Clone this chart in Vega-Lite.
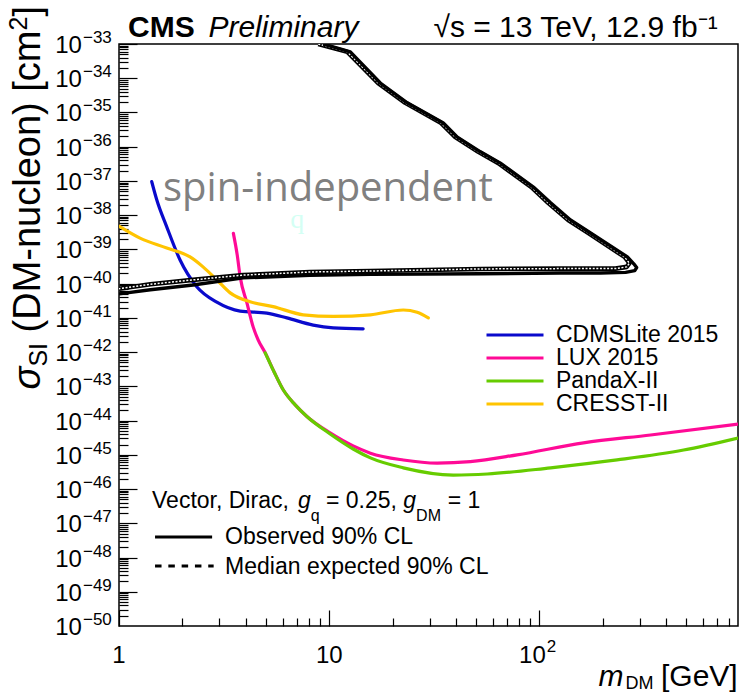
{
  "$schema": "https://vega.github.io/schema/vega-lite/v6.json",
  "width": 619,
  "height": 582,
  "autosize": {"type": "none"},
  "padding": {"left": 119, "top": 44, "right": 6, "bottom": 67},
  "background": "white",
  "config": {
    "view": {"stroke": "black", "strokeWidth": 1.5},
    "axis": {"grid": false, "domain": false, "labels": false, "tickColor": "black", "tickWidth": 1.2, "title": null}
  },
  "datasets": {
    "ylab": [
      {"m": 0.6665, "me": 0.674, "s": 1e-33, "e": "−33"}, {"m": 0.6665, "me": 0.674, "s": 1e-34, "e": "−34"},
      {"m": 0.6665, "me": 0.674, "s": 1e-35, "e": "−35"}, {"m": 0.6665, "me": 0.674, "s": 1e-36, "e": "−36"},
      {"m": 0.6665, "me": 0.674, "s": 1e-37, "e": "−37"}, {"m": 0.6665, "me": 0.674, "s": 1e-38, "e": "−38"},
      {"m": 0.6665, "me": 0.674, "s": 1e-39, "e": "−39"}, {"m": 0.6665, "me": 0.674, "s": 1e-40, "e": "−40"},
      {"m": 0.6665, "me": 0.674, "s": 1e-41, "e": "−41"}, {"m": 0.6665, "me": 0.674, "s": 1e-42, "e": "−42"},
      {"m": 0.6665, "me": 0.674, "s": 1e-43, "e": "−43"}, {"m": 0.6665, "me": 0.674, "s": 1e-44, "e": "−44"},
      {"m": 0.6665, "me": 0.674, "s": 1e-45, "e": "−45"}, {"m": 0.6665, "me": 0.674, "s": 1e-46, "e": "−46"},
      {"m": 0.6665, "me": 0.674, "s": 1e-47, "e": "−47"}, {"m": 0.6665, "me": 0.674, "s": 1e-48, "e": "−48"},
      {"m": 0.6665, "me": 0.674, "s": 1e-49, "e": "−49"}, {"m": 0.6665, "me": 0.674, "s": 1e-50, "e": "−50"}
    ]
  },
  "encoding": {
    "x": {"field": "m", "type": "quantitative",
      "scale": {"type": "log", "domain": [1, 880], "nice": false},
      "axis": {"orient": "bottom", "tickCount": 20,
        "tickSize": {"condition": {"test": "abs(log(datum.value)/LN10 - round(log(datum.value)/LN10)) < 0.01", "value": -16}, "value": -8}}},
    "y": {"field": "s", "type": "quantitative",
      "scale": {"type": "log", "domain": [1e-50, 1e-33], "nice": false},
      "axis": {"orient": "left", "tickCount": 20,
        "tickSize": {"condition": {"test": "abs(log(datum.value)/LN10 - round(log(datum.value)/LN10)) < 0.01", "value": -18}, "value": -9}}}
  },
  "layer": [
    {
      "data": {"values": [
        {"exp": "CDMSLite 2015", "m": 1.431, "s": 9.55e-38},
        {"exp": "CDMSLite 2015", "m": 1.512, "s": 2.82e-38},
        {"exp": "CDMSLite 2015", "m": 1.687, "s": 4.57e-39},
        {"exp": "CDMSLite 2015", "m": 1.952, "s": 4.90e-40},
        {"exp": "CDMSLite 2015", "m": 2.344, "s": 8.13e-41},
        {"exp": "CDMSLite 2015", "m": 2.919, "s": 2.88e-41},
        {"exp": "CDMSLite 2015", "m": 3.77, "s": 1.58e-41},
        {"exp": "CDMSLite 2015", "m": 5.05, "s": 1.38e-41},
        {"exp": "CDMSLite 2015", "m": 6.29, "s": 1.0e-41},
        {"exp": "CDMSLite 2015", "m": 8.39, "s": 6.17e-42},
        {"exp": "CDMSLite 2015", "m": 10.45, "s": 5.13e-42},
        {"exp": "CDMSLite 2015", "m": 14.5, "s": 4.79e-42},
        {"exp": "LUX 2015", "m": 3.5, "s": 2.95e-39},
        {"exp": "LUX 2015", "m": 3.65, "s": 6.92e-40},
        {"exp": "LUX 2015", "m": 3.77, "s": 1.58e-40},
        {"exp": "LUX 2015", "m": 4.06, "s": 2.75e-41},
        {"exp": "LUX 2015", "m": 4.35, "s": 5.37e-42},
        {"exp": "LUX 2015", "m": 4.59, "s": 2.29e-42},
        {"exp": "LUX 2015", "m": 4.96, "s": 9.55e-43},
        {"exp": "LUX 2015", "m": 5.47, "s": 2.63e-43},
        {"exp": "LUX 2015", "m": 6.04, "s": 7.94e-44},
        {"exp": "LUX 2015", "m": 6.89, "s": 2.88e-44},
        {"exp": "LUX 2015", "m": 7.83, "s": 1.32e-44},
        {"exp": "LUX 2015", "m": 10.1, "s": 4.37e-45},
        {"exp": "LUX 2015", "m": 13.0, "s": 1.82e-45},
        {"exp": "LUX 2015", "m": 15.7, "s": 1.12e-45},
        {"exp": "LUX 2015", "m": 22.5, "s": 7.08e-46},
        {"exp": "LUX 2015", "m": 32.6, "s": 5.75e-46},
        {"exp": "LUX 2015", "m": 46.9, "s": 6.31e-46},
        {"exp": "LUX 2015", "m": 78.3, "s": 1.0e-45},
        {"exp": "LUX 2015", "m": 162, "s": 2.24e-45},
        {"exp": "LUX 2015", "m": 338, "s": 3.80e-45},
        {"exp": "LUX 2015", "m": 880, "s": 7.94e-45},
        {"exp": "PandaX-II", "m": 4.96, "s": 9.55e-43},
        {"exp": "PandaX-II", "m": 5.47, "s": 2.63e-43},
        {"exp": "PandaX-II", "m": 6.04, "s": 7.94e-44},
        {"exp": "PandaX-II", "m": 6.89, "s": 2.88e-44},
        {"exp": "PandaX-II", "m": 7.83, "s": 1.32e-44},
        {"exp": "PandaX-II", "m": 10.1, "s": 4.07e-45},
        {"exp": "PandaX-II", "m": 13.0, "s": 1.48e-45},
        {"exp": "PandaX-II", "m": 15.7, "s": 8.13e-46},
        {"exp": "PandaX-II", "m": 22.5, "s": 4.17e-46},
        {"exp": "PandaX-II", "m": 38.9, "s": 2.57e-46},
        {"exp": "PandaX-II", "m": 56.5, "s": 2.75e-46},
        {"exp": "PandaX-II", "m": 113, "s": 4.17e-46},
        {"exp": "PandaX-II", "m": 234, "s": 7.08e-46},
        {"exp": "PandaX-II", "m": 485, "s": 1.38e-45},
        {"exp": "PandaX-II", "m": 880, "s": 3.09e-45},
        {"exp": "CRESST-II", "m": 1.0, "s": 4.79e-39},
        {"exp": "CRESST-II", "m": 1.259, "s": 2.14e-39},
        {"exp": "CRESST-II", "m": 1.687, "s": 1.10e-39},
        {"exp": "CRESST-II", "m": 2.178, "s": 6.03e-40},
        {"exp": "CRESST-II", "m": 2.51, "s": 3.09e-40},
        {"exp": "CRESST-II", "m": 2.919, "s": 1.29e-40},
        {"exp": "CRESST-II", "m": 3.38, "s": 5.37e-41},
        {"exp": "CRESST-II", "m": 4.2, "s": 2.95e-41},
        {"exp": "CRESST-II", "m": 5.41, "s": 2.14e-41},
        {"exp": "CRESST-II", "m": 7.52, "s": 1.23e-41},
        {"exp": "CRESST-II", "m": 10.45, "s": 1.10e-41},
        {"exp": "CRESST-II", "m": 15.7, "s": 1.23e-41},
        {"exp": "CRESST-II", "m": 22.5, "s": 1.70e-41},
        {"exp": "CRESST-II", "m": 26.2, "s": 1.45e-41},
        {"exp": "CRESST-II", "m": 29.6, "s": 1.0e-41}
      ]},
      "mark": {"type": "line", "strokeWidth": 3.2, "clip": true, "strokeCap": "round", "strokeJoin": "round", "interpolate": "monotone"},
      "encoding": {
        "color": {"field": "exp", "type": "nominal",
          "scale": {"domain": ["CDMSLite 2015", "LUX 2015", "PandaX-II", "CRESST-II"], "range": ["#0a0acc", "#ff0a96", "#66cc00", "#ffc400"]},
          "legend": {"orient": "none", "legendX": 366, "legendY": 280, "title": null, "symbolType": "stroke", "symbolSize": 3249, "symbolStrokeWidth": 3, "clipHeight": 22, "rowPadding": 0, "labelFont": "Liberation Sans", "labelFontSize": 23, "labelColor": "black", "labelOffset": 11, "labelLimit": 400, "padding": 0}}
      }
    },
    {
      "data": {"values": [
        {"o": 1, "m": 8.87, "s": 1.0e-33}, {"o": 2, "m": 12.2, "s": 5.89e-34}, {"o": 3, "m": 17.1, "s": 7.24e-35},
        {"o": 4, "m": 23.0, "s": 1.91e-35}, {"o": 5, "m": 34.1, "s": 4.90e-36}, {"o": 6, "m": 39.8, "s": 1.91e-36},
        {"o": 7, "m": 51.2, "s": 7.08e-37}, {"o": 8, "m": 63.8, "s": 3.31e-37}, {"o": 9, "m": 91.6, "s": 6.61e-38},
        {"o": 10, "m": 110, "s": 2.29e-38}, {"o": 11, "m": 137, "s": 7.24e-39}, {"o": 12, "m": 171, "s": 3.02e-39},
        {"o": 13, "m": 254, "s": 6.03e-40}, {"o": 14, "m": 268, "s": 3.98e-40}, {"o": 15, "m": 260, "s": 3.09e-40},
        {"o": 16, "m": 230, "s": 2.75e-40}, {"o": 17, "m": 126, "s": 2.75e-40}, {"o": 18, "m": 52.4, "s": 2.69e-40},
        {"o": 19, "m": 15.7, "s": 2.34e-40}, {"o": 20, "m": 8.1, "s": 2.19e-40}, {"o": 21, "m": 3.9, "s": 1.78e-40},
        {"o": 22, "m": 2.25, "s": 1.29e-40}, {"o": 23, "m": 1.41, "s": 9.55e-41}, {"o": 24, "m": 1.0, "s": 7.08e-41}
      ]},
      "layer": [
        {"mark": {"type": "line", "color": "black", "strokeWidth": 4.6, "clip": true, "strokeJoin": "round"}, "encoding": {"order": {"field": "o", "type": "quantitative"}}},
        {"mark": {"type": "line", "color": "white", "strokeWidth": 1.5, "strokeDash": [2, 1.6], "clip": true}, "encoding": {"order": {"field": "o", "type": "quantitative"}}}
      ]
    },
    {
      "data": {"values": [
        {"o": 1, "m": 9.36, "s": 1.0e-33}, {"o": 2, "m": 12.6, "s": 5.89e-34}, {"o": 3, "m": 17.5, "s": 7.24e-35},
        {"o": 4, "m": 23.5, "s": 1.91e-35}, {"o": 5, "m": 34.9, "s": 4.90e-36}, {"o": 6, "m": 40.7, "s": 1.91e-36},
        {"o": 7, "m": 52.4, "s": 7.08e-37}, {"o": 8, "m": 65.2, "s": 3.31e-37}, {"o": 9, "m": 93.6, "s": 6.61e-38},
        {"o": 10, "m": 113, "s": 2.29e-38}, {"o": 11, "m": 140.5, "s": 7.24e-39}, {"o": 12, "m": 175, "s": 3.02e-39},
        {"o": 13, "m": 262, "s": 6.03e-40}, {"o": 14, "m": 281, "s": 3.80e-40}, {"o": 15, "m": 290, "s": 2.95e-40},
        {"o": 16, "m": 284, "s": 2.40e-40}, {"o": 17, "m": 257, "s": 2.14e-40}, {"o": 18, "m": 195, "s": 2.04e-40},
        {"o": 19, "m": 126, "s": 2.04e-40}, {"o": 20, "m": 52.4, "s": 1.95e-40}, {"o": 21, "m": 15.7, "s": 1.86e-40},
        {"o": 22, "m": 8.1, "s": 1.74e-40}, {"o": 23, "m": 3.9, "s": 1.48e-40}, {"o": 24, "m": 2.25, "s": 9.12e-41},
        {"o": 25, "m": 1.41, "s": 6.61e-41}, {"o": 26, "m": 1.0, "s": 5.01e-41}
      ]},
      "mark": {"type": "line", "color": "black", "strokeWidth": 3.4, "clip": true, "strokeJoin": "round"},
      "encoding": {"order": {"field": "o", "type": "quantitative"}}
    },
    {
      "data": {"values": [{"m": 1.484, "m2": 2.773, "s": 4.0e-48}]},
      "mark": {"type": "rule", "color": "black", "strokeWidth": 3},
      "encoding": {"x2": {"field": "m2"}}
    },
    {
      "data": {"values": [{"m": 1.484, "m2": 2.82, "s": 5.69e-49}]},
      "mark": {"type": "rule", "color": "black", "strokeWidth": 3, "strokeDash": [6.5, 6.8]},
      "encoding": {"x2": {"field": "m2"}}
    },
    {
      "data": {"name": "ylab"},
      "mark": {"type": "text", "align": "right", "baseline": "alphabetic", "font": "Liberation Sans", "fontSize": 24, "color": "black", "dy": 9},
      "encoding": {"text": {"value": "10"}}
    },
    {
      "data": {"name": "ylab"},
      "mark": {"type": "text", "align": "left", "baseline": "alphabetic", "font": "Liberation Sans", "fontSize": 17, "color": "black", "dy": -1},
      "encoding": {"x": {"field": "me", "type": "quantitative"}, "text": {"field": "e"}}
    },
    {
      "data": {"values": [{"m": 1, "s": 1e-50, "t": "1"}, {"m": 10, "s": 1e-50, "t": "10"}, {"m": 92.6, "s": 1e-50, "t": "10"}]},
      "mark": {"type": "text", "align": "center", "baseline": "alphabetic", "font": "Liberation Sans", "fontSize": 24, "color": "black", "dy": 37},
      "encoding": {"text": {"field": "t"}}
    },
    {
      "data": {"values": [{"m": 114, "s": 1e-50, "t": "2"}]},
      "mark": {"type": "text", "align": "center", "baseline": "alphabetic", "font": "Liberation Sans", "fontSize": 17, "color": "black", "dy": 26},
      "encoding": {"text": {"field": "t"}}
    },
    {
      "data": {"values": [
        {"t": "Vector, Dirac,", "m": 1.436, "s": 2.81e-47},
        {"t": "= 0.25,", "m": 9.65, "s": 2.81e-47},
        {"t": "= 1", "m": 36.6, "s": 2.81e-47},
        {"t": "Observed 90% CL", "m": 3.197, "s": 2.49e-48},
        {"t": "Median expected 90% CL", "m": 3.197, "s": 3.32e-49}
      ]},
      "mark": {"type": "text", "align": "left", "baseline": "alphabetic", "font": "Liberation Sans", "fontSize": 23, "color": "black"},
      "encoding": {"text": {"field": "t"}}
    },
    {
      "data": {"values": [
        {"t": "g", "m": 7.10, "s": 2.81e-47},
        {"t": "g", "m": 22.5, "s": 2.81e-47}
      ]},
      "mark": {"type": "text", "align": "left", "baseline": "alphabetic", "font": "Liberation Sans", "fontStyle": "italic", "fontSize": 23, "color": "black"},
      "encoding": {"text": {"field": "t"}}
    },
    {
      "data": {"values": [
        {"t": "q", "m": 8.16, "s": 1.17e-47},
        {"t": "DM", "m": 25.9, "s": 1.17e-47}
      ]},
      "mark": {"type": "text", "align": "left", "baseline": "alphabetic", "font": "Liberation Sans", "fontSize": 16, "color": "black"},
      "encoding": {"text": {"field": "t"}}
    },
    {
      "data": {"values": [{"t": "CMS", "m": 1.104, "s": 1.60e-33}]},
      "mark": {"type": "text", "align": "left", "baseline": "alphabetic", "font": "Liberation Sans", "fontWeight": "bold", "fontSize": 30, "color": "black"},
      "encoding": {"text": {"field": "t"}}
    },
    {
      "data": {"values": [
        {"t": "Preliminary", "m": 2.662, "s": 1.60e-33},
        {"t": "m", "m": 191, "s": 1.78e-52}
      ]},
      "mark": {"type": "text", "align": "left", "baseline": "alphabetic", "font": "Liberation Sans", "fontStyle": "italic", "fontSize": 30, "color": "black"},
      "encoding": {"text": {"field": "t"}}
    },
    {
      "data": {"values": [
        {"t": "√s = 13 TeV, 12.9 fb⁻¹", "m": 704, "s": 1.60e-33},
        {"t": "[GeV]", "m": 877, "s": 1.78e-52}
      ]},
      "mark": {"type": "text", "align": "right", "baseline": "alphabetic", "font": "Liberation Sans", "fontSize": 30, "color": "black"},
      "encoding": {"text": {"field": "t"}}
    },
    {
      "data": {"values": [{"t": "DM", "m": 256.8, "s": 1.45e-52}]},
      "mark": {"type": "text", "align": "left", "baseline": "alphabetic", "font": "Liberation Sans", "fontSize": 18, "color": "black"},
      "encoding": {"text": {"field": "t"}}
    },
    {
      "data": {"values": [{"t": "spin-independent", "m": 1.62, "s": 2.60e-38}]},
      "mark": {"type": "text", "align": "left", "baseline": "alphabetic", "font": "Open Sans", "fontSize": 40, "color": "#808080"},
      "encoding": {"text": {"field": "t"}}
    },
    {
      "data": {"values": [{"t": "q", "m": 6.52, "s": 4.23e-39}]},
      "mark": {"type": "text", "align": "left", "baseline": "alphabetic", "font": "Liberation Serif", "fontSize": 28, "color": "#d4fff4"},
      "encoding": {"text": {"field": "t"}}
    },
    {
      "data": {"values": [
        {"t": "]", "m": 0.4206, "s": 1.288e-32},
        {"t": "(DM-nucleon) [cm", "m": 0.4206, "s": 2.48e-33}
      ]},
      "mark": {"type": "text", "angle": 270, "align": "right", "baseline": "alphabetic", "font": "Liberation Sans", "fontSize": 38, "color": "black"},
      "encoding": {"text": {"field": "t"}}
    },
    {
      "data": {"values": [{"t": "2", "m": 0.3647, "s": 6.31e-33}]},
      "mark": {"type": "text", "angle": 270, "align": "right", "baseline": "alphabetic", "font": "Liberation Sans", "fontSize": 25, "color": "black"},
      "encoding": {"text": {"field": "t"}}
    },
    {
      "data": {"values": [{"t": "SI", "m": 0.454, "s": 1.851e-42}]},
      "mark": {"type": "text", "angle": 270, "align": "right", "baseline": "alphabetic", "font": "Liberation Sans", "fontSize": 25, "color": "black"},
      "encoding": {"text": {"field": "t"}}
    },
    {
      "data": {"values": [{"t": "σ", "m": 0.4206, "s": 3.79e-43}]},
      "mark": {"type": "text", "angle": 270, "align": "right", "baseline": "alphabetic", "font": "Liberation Sans", "fontStyle": "italic", "fontSize": 38, "color": "black"},
      "encoding": {"text": {"field": "t"}}
    }
  ]
}
